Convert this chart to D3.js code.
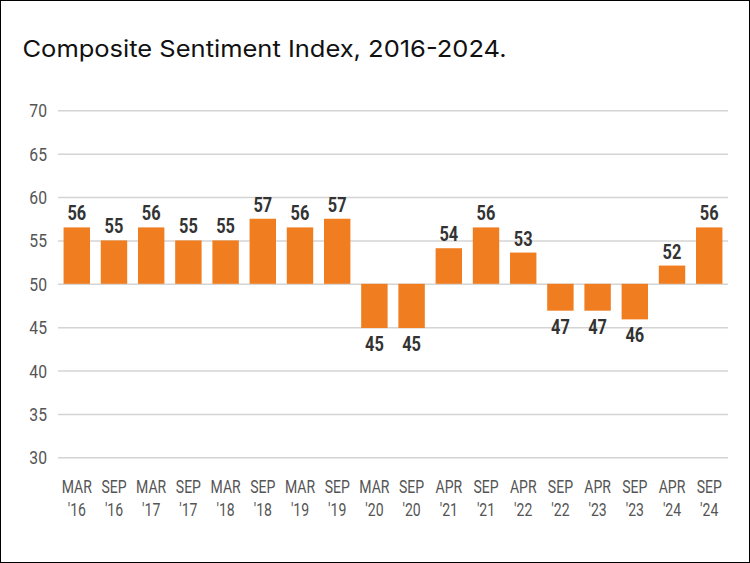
<!DOCTYPE html>
<html><head><meta charset="utf-8">
<script src="https://cdn.jsdelivr.net/npm/d3@7"></script>
<style>body{margin:0;background:#fff}svg{display:block}</style>
</head><body>
<svg id="c" width="750" height="563"></svg>
<script>
const periods = ["MAR|'16","SEP|'16","MAR|'17","SEP|'17","MAR|'18","SEP|'18","MAR|'19","SEP|'19","MAR|'20","SEP|'20","APR|'21","SEP|'21","APR|'22","SEP|'22","APR|'23","SEP|'23","APR|'24","SEP|'24"];
const barValues = [56.5,55,56.5,55,55,57.5,56.5,57.5,44.9,44.9,54.1,56.5,53.6,46.9,46.9,45.9,52.1,56.5];
const labelValues = [56,55,56,55,55,57,56,57,45,45,54,56,53,47,47,46,52,56];
const yTicks = [30,35,40,45,50,55,60,65,70];
const baseline = 50;
const title = "Composite Sentiment Index, 2016-2024.";

const svg = d3.select("#c");
svg.append("rect").attr("x",0.5).attr("y",0.5).attr("width",749).attr("height",562)
  .attr("fill","#fff").attr("stroke","#000").attr("stroke-width",1);

svg.append("text").attr("x",22.5).attr("y",56.7).text(title)
  .attr("font-family","Inter, 'Open Sans', sans-serif").attr("font-weight",400)
  .attr("font-size",23.5).attr("fill","#111")
  .attr("textLength",484).attr("lengthAdjust","spacingAndGlyphs");

const y = d3.scaleLinear().domain([30,70]).range([457.3,110.3]);
const x = d3.scaleBand().domain(periods).range([58,728]).paddingInner(0.29).paddingOuter(0.15);

const narrow = "Roboto, 'Noto Sans', sans-serif";

// grid
const yAxis = d3.axisLeft(y).tickValues(yTicks).tickSize(-(728-58)).tickPadding(11);
const gy = svg.append("g").attr("transform","translate(58,0)").call(yAxis);
gy.select(".domain").remove();
gy.selectAll(".tick line").attr("stroke","#d4d4d4").attr("stroke-width",1.5);
gy.selectAll(".tick text").attr("font-family",narrow).attr("font-size",18.5).attr("fill","#555")
  .attr("x",0).attr("dy",null).attr("dominant-baseline","central")
  .attr("transform","translate(-11,0) scale(0.85,1)");

// bars
svg.append("g").selectAll("rect").data(periods).join("rect")
  .attr("x",d=>x(d)).attr("width",x.bandwidth())
  .attr("y",(d,i)=>y(Math.max(barValues[i],baseline)))
  .attr("height",(d,i)=>Math.abs(y(barValues[i])-y(baseline)))
  .attr("fill","#F07D1F");

// value labels
svg.append("g").selectAll("text").data(periods).join("text")
  .attr("transform",(d,i)=>{
    const cx = x(d)+x.bandwidth()/2;
    const cy = barValues[i]>=baseline ? y(barValues[i])-7 : y(barValues[i])+23;
    return `translate(${cx},${cy}) scale(0.78,1)`;
  })
  .attr("text-anchor","middle")
  .attr("font-family",narrow).attr("font-weight","bold").attr("font-size",21).attr("fill","#333")
  .text((d,i)=>labelValues[i]);

// x axis labels
const xAxis = d3.axisBottom(x).tickSize(0).tickFormat("");
const gx = svg.append("g").attr("transform","translate(0,457.3)").call(xAxis);
gx.select(".domain").remove();
gx.selectAll(".tick").each(function(d){
  const parts = d.split("|");
  const t = d3.select(this).append("text").attr("text-anchor","middle")
    .attr("transform","scale(0.78,1)")
    .attr("font-family",narrow).attr("font-size",18).attr("fill","#555");
  t.append("tspan").attr("x",0).attr("y",36).text(parts[0]);
  t.append("tspan").attr("x",0).attr("y",59).text(parts[1]);
});
</script>
</body></html>
